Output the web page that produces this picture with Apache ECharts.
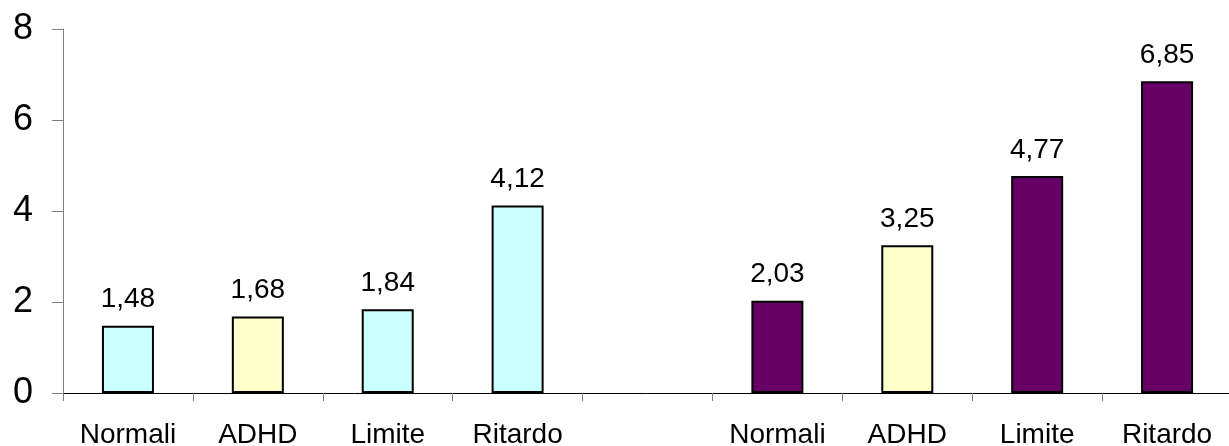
<!DOCTYPE html>
<html>
<head>
<meta charset="utf-8">
<script src="https://cdn.jsdelivr.net/npm/echarts@6/dist/echarts.min.js"></script>
<style>
  html, body { margin: 0; padding: 0; background: #ffffff; }
  #chart { width: 1229px; height: 446px; }
</style>
</head>
<body>
<div id="chart"></div>
<script>
// Two groups of four bars, separated by an empty slot
const categories = ['Normali', 'ADHD', 'Limite', 'Ritardo', '', 'Normali', 'ADHD', 'Limite', 'Ritardo'];
const groupA = [1.48, 1.68, 1.84, 4.12, null, null, null, null, null];
const groupB = [null, null, null, null, null, 2.03, 3.25, 4.77, 6.85];
const yTicks = [0, 2, 4, 6, 8];

const colorA = '#CCFFFF';
const colorB = '#660066';
const colorADHD = '#FFFFCC';

const FONT = '"Liberation Sans", Arial, sans-serif';

function toData(values, baseColor) {
  return values.map((v, i) => {
    if (v === null) return null;
    const fill = categories[i] === 'ADHD' ? colorADHD : baseColor;
    return { value: v, itemStyle: { color: fill } };
  });
}

const label = {
  show: true,
  position: 'top',
  distance: 12,
  color: '#000',
  fontFamily: FONT,
  fontSize: 28,
  formatter: p => p.value.toFixed(2).replace('.', ',')
};

const chart = echarts.init(document.getElementById('chart'), null, { renderer: 'canvas' });
chart.setOption({
  animation: false,
  backgroundColor: '#ffffff',
  grid: { left: 63, right: -3, top: 29, bottom: 53, containLabel: false, outerBoundsMode: 'none' },
  xAxis: {
    type: 'category',
    data: categories,
    axisLine: { lineStyle: { color: '#000', width: 1 } },
    axisTick: { show: true, length: 8, lineStyle: { color: '#808080' } },
    axisLabel: { color: '#000', fontFamily: FONT, fontSize: 28, margin: 28, interval: 0 }
  },
  yAxis: {
    type: 'value',
    min: yTicks[0],
    max: yTicks[yTicks.length - 1],
    interval: 2,
    splitLine: { show: false },
    axisLine: { show: true, lineStyle: { color: '#808080', width: 1 } },
    axisTick: { show: true, length: 11, lineStyle: { color: '#808080' } },
    axisLabel: { color: '#000', fontFamily: FONT, fontSize: 36, margin: 30 }
  },
  series: [
    {
      type: 'bar',
      data: toData(groupA, colorA),
      barWidth: 52,
      barGap: '-100%',
      itemStyle: { borderColor: '#000', borderWidth: 2 },
      label: label
    },
    {
      type: 'bar',
      data: toData(groupB, colorB),
      barWidth: 52,
      barGap: '-100%',
      itemStyle: { borderColor: '#000', borderWidth: 2 },
      label: label
    }
  ]
});
</script>
</body>
</html>
